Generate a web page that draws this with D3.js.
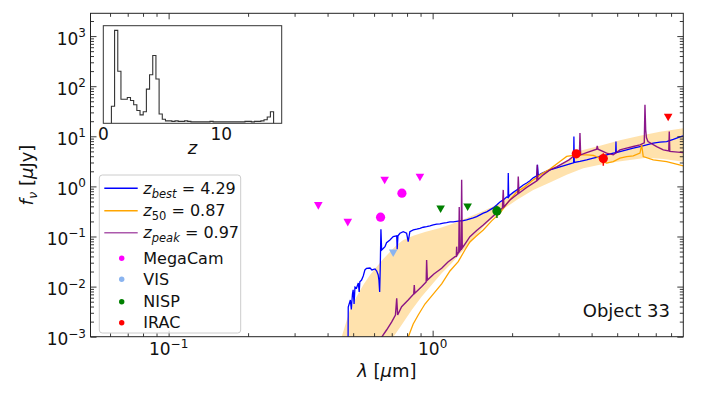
<!DOCTYPE html>
<html>
<head>
<meta charset="utf-8">
<script src="https://cdn.jsdelivr.net/npm/d3@7"></script>
<style>
  body { margin: 0; background: #fff; }
  svg { font-family: "DejaVu Sans", sans-serif; }
</style>
</head>
<body>
<svg id="chart"></svg>
<script>
// axis limits
const lamRange = [0.0506, 8.9];      // micron
const fluxRange = [1e-3, 2850];      // microJy
const xMajor = [0.1, 1];
const yMajor = [1e-3, 1e-2, 1e-1, 1, 10, 100, 1000];

// SED templates  [lambda (um), f_nu (uJy)]
const sedBest = [
  [0.478, 0.0004], [0.479, 0.0039], [0.488, 0.0054], [0.492, 0.0035], [0.497, 0.0071],
  [0.500, 0.0086], [0.504, 0.0045], [0.508, 0.0098], [0.515, 0.0094], [0.523, 0.0118],
  [0.527, 0.0078], [0.530, 0.0125], [0.538, 0.0135], [0.546, 0.0163], [0.554, 0.0215],
  [0.562, 0.0232], [0.579, 0.0235], [0.589, 0.0215], [0.605, 0.0225], [0.614, 0.0205],
  [0.622, 0.0171], [0.626, 0.0135], [0.630, 0.0078], [0.633, 0.0215], [0.637, 0.140],
  [0.641, 0.0538], [0.647, 0.0564], [0.660, 0.0627], [0.669, 0.0753], [0.689, 0.0853],
  [0.709, 0.0993], [0.731, 0.103], [0.734, 0.0556], [0.739, 0.103], [0.752, 0.116],
  [0.774, 0.125], [0.797, 0.116], [0.808, 0.0789], [0.820, 0.125], [0.845, 0.135],
  [0.870, 0.140], [0.895, 0.146], [0.921, 0.153], [0.949, 0.157], [0.977, 0.163],
  [1.005, 0.170], [1.036, 0.176], [1.066, 0.178], [1.097, 0.184], [1.130, 0.189],
  [1.163, 0.195], [1.197, 0.195], [1.250, 0.202], [1.306, 0.207], [1.345, 0.214],
  [1.384, 0.224], [1.425, 0.235], [1.468, 0.249], [1.511, 0.270], [1.555, 0.292],
  [1.602, 0.310], [1.648, 0.339], [1.696, 0.372], [1.748, 0.427], [1.799, 0.490],
  [1.851, 0.537], [1.907, 0.617], [1.929, 0.600], [1.934, 1.84], [1.941, 0.617],
  [1.963, 0.676], [2.020, 0.759], [2.081, 0.851], [2.142, 0.955], [2.204, 1.07],
  [2.271, 1.17], [2.337, 1.29], [2.405, 1.48], [2.480, 1.62], [2.495, 2.69],
  [2.512, 1.66], [2.588, 1.82], [2.664, 1.95], [2.782, 2.14], [2.906, 2.29],
  [3.035, 2.45], [3.171, 2.63], [3.311, 2.82], [3.420, 2.95], [3.428, 9.89],
  [3.440, 3.00], [3.614, 3.16], [3.831, 3.39], [4.058, 3.66], [4.302, 3.94],
  [4.561, 4.26], [4.832, 4.61], [4.935, 4.70], [4.947, 7.85], [4.960, 4.72],
  [5.123, 4.96], [5.430, 5.36], [5.753, 5.80], [6.099, 6.24], [6.466, 6.75],
  [6.848, 7.30], [7.261, 7.64], [7.697, 7.85], [8.155, 8.69], [8.646, 9.75], [8.9, 10.2]
];
const sed50 = [
  [0.805, 0.0006], [0.808, 0.00098], [0.844, 0.00179], [0.882, 0.00271], [0.935, 0.00449],
  [1.005, 0.0071], [1.082, 0.0113], [1.163, 0.0205], [1.250, 0.0315], [1.325, 0.0538],
  [1.384, 0.0778], [1.468, 0.103], [1.555, 0.135], [1.673, 0.205], [1.799, 0.292],
  [1.934, 0.490], [2.081, 0.776], [2.204, 0.933], [2.405, 1.35], [2.588, 1.78],
  [2.782, 2.21], [3.035, 3.13], [3.219, 3.97], [3.512, 4.26], [3.831, 4.26],
  [4.058, 4.16], [4.302, 3.66], [4.561, 2.91], [4.832, 3.13], [5.123, 3.66],
  [5.430, 3.94], [5.753, 4.06], [6.099, 4.61], [6.190, 6.75], [6.276, 3.94],
  [6.848, 3.38], [7.697, 3.13], [8.9, 2.57]
];
const sedPeak = [
  [0.636, 0.0006], [0.641, 0.00098], [0.669, 0.00136], [0.699, 0.00196], [0.723, 0.00271],
  [0.731, 0.00583], [0.737, 0.00271], [0.763, 0.00397], [0.808, 0.0054], [0.848, 0.0071],
  [0.852, 0.0108], [0.856, 0.00735], [0.908, 0.00995], [0.945, 0.0124], [0.949, 0.034],
  [0.955, 0.0135], [1.011, 0.0179], [1.082, 0.0232], [1.143, 0.031], [1.215, 0.0396],
  [1.229, 0.040], [1.233, 0.0627], [1.238, 0.0428], [1.256, 0.0491], [1.261, 0.389],
  [1.267, 0.0514], [1.282, 0.0564], [1.288, 1.35], [1.295, 0.059], [1.345, 0.0789],
  [1.384, 0.0993], [1.468, 0.132], [1.555, 0.170], [1.648, 0.224], [1.748, 0.296],
  [1.838, 0.372], [1.851, 0.851], [1.862, 0.389], [1.963, 0.537], [2.101, 0.708],
  [2.110, 1.57], [2.123, 0.731], [2.271, 0.955], [2.405, 1.16], [2.480, 1.29],
  [2.490, 2.69], [2.503, 1.35], [2.624, 1.70], [2.782, 2.14], [2.950, 2.45],
  [3.125, 2.91], [3.284, 3.38], [3.409, 3.97], [3.597, 4.26], [3.614, 11.6],
  [3.636, 4.26], [3.831, 4.73], [4.180, 5.53], [4.202, 6.44], [4.228, 5.53],
  [4.561, 4.61], [4.832, 4.26], [5.123, 5.36], [5.430, 5.80], [5.753, 6.24],
  [6.099, 6.75], [6.332, 7.40], [6.371, 42.5], [6.410, 13.5], [6.455, 9.31],
  [6.540, 7.85], [7.055, 6.24], [7.474, 5.36], [7.841, 5.12], [7.876, 12.4],
  [7.911, 5.00], [8.276, 4.89], [8.9, 4.73]
];
// confidence band edges
const bandUpper = [
  [0.450, 0.0006], [0.452, 0.00098], [0.486, 0.0034], [0.515, 0.00628], [0.546, 0.0108],
  [0.579, 0.0171], [0.614, 0.025], [0.650, 0.0356], [0.689, 0.0491], [0.731, 0.0678],
  [0.774, 0.0853], [0.844, 0.103], [0.935, 0.123], [1.066, 0.148], [1.197, 0.182],
  [1.345, 0.235], [1.555, 0.324], [1.799, 0.461], [2.081, 0.851], [2.405, 1.38],
  [2.782, 2.19], [3.219, 3.23], [3.614, 5.12], [4.302, 6.44], [5.123, 8.30],
  [6.099, 10.2], [7.261, 12.3], [8.9, 14.4]
];
const bandLower = [
  [0.705, 0.0006], [0.709, 0.00098], [0.763, 0.00171], [0.833, 0.0034], [0.908, 0.00628],
  [0.991, 0.0108], [1.082, 0.0185], [1.180, 0.0292], [1.288, 0.0491], [1.384, 0.0733],
  [1.555, 0.155], [1.799, 0.314], [2.081, 0.537], [2.405, 0.851], [2.782, 1.19],
  [3.219, 1.70], [3.720, 2.31], [4.302, 2.69], [4.832, 3.02], [5.589, 3.38],
  [6.466, 3.71], [7.474, 3.54], [8.9, 3.09]
];

// photometry  [lambda, flux, error, upper limit?]
const photMegaCam = [[0.369, 0.408, 0, 1], [0.477, 0.189, 0, 1], [0.635, 0.243, 0, 0],
                     [0.658, 1.31, 0, 1], [0.765, 0.731, 0, 0], [0.895, 1.50, 0, 1]];
const photVIS = [[0.709, 0.0463, 0, 1]];
const photNISP = [[1.072, 0.350, 0, 1], [1.357, 0.384, 0, 1], [1.752, 0.324, 0.089, 0]];
const photIRAC = [[3.50, 4.46, 0.4, 0], [4.43, 3.59, 1.02, 0], [7.80, 23.7, 0, 1]];

// redshift PDF histogram (inset)
const zEdges = [0.72, 0.99, 1.26, 1.53, 1.80, 2.07, 2.34, 2.61, 2.88, 3.15, 3.42, 3.69, 3.96,
  4.23, 4.50, 4.77, 5.04, 5.31, 5.58, 5.85, 6.12, 6.39, 6.66, 6.93, 7.20, 7.47, 7.74, 8.01,
  8.28, 8.55, 8.82, 9.09, 9.36, 9.63, 9.90, 10.17, 10.44, 10.71, 10.98, 11.25, 11.52, 11.79,
  12.06, 12.33, 12.60, 12.87, 13.14, 13.41, 13.68, 13.95, 14.22, 14.49];
const zCounts = [40, 1300, 200, 55, 55, 60, 52, 43, 33, 27, 31, 88, 170, 410, 140, 28, 22,
  20.5, 20.5, 20, 20.5, 20, 20, 20.5, 20, 19.5, 19.5, 19.5, 19.5, 19.5, 19.5, 20, 19.5,
  19.5, 19.5, 19.5, 19.5, 19.5, 19.5, 19.5, 19.5, 19.5, 20, 20, 19.5, 20, 20, 20.5, 21.5,
  24.5, 31];
const zTicks = [0, 10];
const zCountRange = [18.3, 1614];

const legendLines = [
  {color: '#0000ff', sub: 'best', subItalic: true, val: '4.29', op: 1},
  {color: '#ffa500', sub: '50', subItalic: false, val: '0.87', op: 1},
  {color: '#800080', sub: 'peak', subItalic: true, val: '0.97', op: 0.65}
];
const legendBands = [
  {name: 'MegaCam', color: '#ff00ff', pts: photMegaCam},
  {name: 'VIS', color: '#8ab4f0', pts: photVIS},
  {name: 'NISP', color: '#008000', pts: photNISP},
  {name: 'IRAC', color: '#ff0000', pts: photIRAC}
];

const W = 703, H = 395;
const plot = {left: 90.5, right: 683.3, top: 13.3, bottom: 336.7};
const ins = {left: 103.3, right: 281.7, top: 25.7, bottom: 123.3};

const svg = d3.select('#chart').attr('width', W).attr('height', H);

const x = d3.scaleLog().domain(lamRange).range([plot.left, plot.right]);
const y = d3.scaleLog().domain(fluxRange).range([plot.bottom, plot.top]);

svg.append('defs').append('clipPath').attr('id', 'clip')
  .append('rect')
  .attr('x', plot.left).attr('y', plot.top)
  .attr('width', plot.right - plot.left).attr('height', plot.bottom - plot.top);

const g = svg.append('g').attr('clip-path', 'url(#clip)');
const line = d3.line().x(d => x(d[0])).y(d => y(d[1]));

// uncertainty band
g.append('path')
  .attr('d', line(bandUpper.concat(bandLower.slice().reverse())) + 'Z')
  .attr('fill', '#ffa500').attr('fill-opacity', 0.32).attr('stroke', 'none');

g.append('path').attr('d', line(sedBest))
  .attr('fill', 'none').attr('stroke', '#0000ff').attr('stroke-width', 1.3);
g.append('path').attr('d', line(sed50))
  .attr('fill', 'none').attr('stroke', '#ffa500').attr('stroke-width', 1.3);
g.append('path').attr('d', line(sedPeak))
  .attr('fill', 'none').attr('stroke', '#800080').attr('stroke-opacity', 0.9).attr('stroke-width', 1.4);

// photometric points
legendBands.forEach(b => {
  b.pts.forEach(p => {
    const px = x(p[0]), py = y(p[1]);
    if (p[2] > 0) {
      g.append('line')
        .attr('x1', px).attr('x2', px)
        .attr('y1', y(p[1] - p[2])).attr('y2', y(p[1] + p[2]))
        .attr('stroke', b.color).attr('stroke-width', 1.5);
    }
    if (p[3]) {
      g.append('path')
        .attr('d', `M${px - 4.3},${py - 3.8}L${px + 4.3},${py - 3.8}L${px},${py + 3.8}Z`)
        .attr('fill', b.color);
    } else {
      g.append('circle').attr('cx', px).attr('cy', py).attr('r', 4.6).attr('fill', b.color);
    }
  });
});

// ticks, all pointing inwards
const xAll = x.ticks();
const yAll = y.ticks();
const isMajor = v => Math.abs(Math.log10(v) - Math.round(Math.log10(v))) < 1e-6;
const xMinor = xAll.filter(v => !isMajor(v));
const yMinor = yAll.filter(v => !isMajor(v));

function ticks(axisFn, scale, vals, size, tr) {
  const a = svg.append('g').attr('transform', tr)
    .call(axisFn(scale).tickValues(vals).tickSize(-size).tickFormat(() => ''));
  a.select('.domain').remove();
  a.selectAll('line').attr('stroke', '#222').attr('stroke-width', 0.9);
}
[[xMajor, 6], [xMinor, 3.5]].forEach(([v, s]) => {
  ticks(d3.axisBottom, x, v, s, `translate(0,${plot.bottom})`);
  ticks(d3.axisTop, x, v, s, `translate(0,${plot.top})`);
});
[[yMajor, 6], [yMinor, 3.5]].forEach(([v, s]) => {
  ticks(d3.axisLeft, y, v, s, `translate(${plot.left},0)`);
  ticks(d3.axisRight, y, v, s, `translate(${plot.right},0)`);
});

svg.append('rect')
  .attr('x', plot.left).attr('y', plot.top)
  .attr('width', plot.right - plot.left).attr('height', plot.bottom - plot.top)
  .attr('fill', 'none').attr('stroke', '#222').attr('stroke-width', 1);

function powLabel(t, v) {
  const e = Math.round(Math.log10(v));
  t.append('tspan').text('10');
  t.append('tspan').attr('dy', -7.5).attr('font-size', 12)
    .text(e < 0 ? '\u2212' + (-e) : String(e));
}
xMajor.forEach(v => {
  const t = svg.append('text').attr('x', x(v)).attr('y', 355)
    .attr('text-anchor', 'middle').attr('font-size', 17).attr('fill', '#111');
  powLabel(t, v);
});
yMajor.forEach(v => {
  const t = svg.append('text').attr('x', 86).attr('y', y(v) + 8.5)
    .attr('text-anchor', 'end').attr('font-size', 17).attr('fill', '#111');
  powLabel(t, v);
});

// axis labels
const xl = svg.append('text').attr('x', (plot.left + plot.right) / 2).attr('y', 377)
  .attr('text-anchor', 'middle').attr('font-size', 18).attr('fill', '#111');
xl.append('tspan').attr('font-style', 'italic').text('\u03bb');
xl.append('tspan').text(' [');
xl.append('tspan').attr('font-style', 'italic').text('\u03bc');
xl.append('tspan').text('m]');

const yl = svg.append('text')
  .attr('transform', `translate(33,${(plot.top + plot.bottom) / 2}) rotate(-90)`)
  .attr('text-anchor', 'middle').attr('font-size', 18).attr('fill', '#111');
yl.append('tspan').attr('font-style', 'italic').text('f');
yl.append('tspan').attr('font-style', 'italic').attr('font-size', 13).attr('dy', 4).text('\u03bd');
yl.append('tspan').attr('dy', -4).text(' [');
yl.append('tspan').attr('font-style', 'italic').text('\u03bc');
yl.append('tspan').text('Jy]');

svg.append('text').attr('x', 670).attr('y', 317).attr('text-anchor', 'end')
  .attr('font-size', 18).attr('fill', '#111').text('Object 33');

// legend
svg.append('rect').attr('x', 99.3).attr('y', 175).attr('width', 141.4).attr('height', 158)
  .attr('rx', 3).attr('fill', '#fff').attr('fill-opacity', 0.8)
  .attr('stroke', '#cccccc').attr('stroke-width', 1);
const lineRows = [188.3, 210.7, 232.7];
const dotRows = [258.3, 279.3, 301.7, 322.7];
legendLines.forEach((d, i) => {
  const ry = lineRows[i];
  svg.append('line').attr('x1', 104.3).attr('x2', 137.7).attr('y1', ry).attr('y2', ry)
    .attr('stroke', d.color).attr('stroke-opacity', d.op).attr('stroke-width', 1.5);
  const t = svg.append('text').attr('x', 143.3).attr('y', ry + 5.5)
    .attr('font-size', 16).attr('fill', '#111');
  t.append('tspan').attr('font-style', 'italic').text('z');
  t.append('tspan').attr('font-size', 11.5).attr('dy', 4)
    .attr('font-style', d.subItalic ? 'italic' : 'normal').text(d.sub);
  t.append('tspan').attr('dy', -4).text(' = ' + d.val);
});
legendBands.forEach((d, i) => {
  const ry = dotRows[i];
  svg.append('circle').attr('cx', 121.7).attr('cy', ry).attr('r', 2.7).attr('fill', d.color);
  svg.append('text').attr('x', 143.3).attr('y', ry + 5.3)
    .attr('font-size', 16).attr('fill', '#111').text(d.name);
});

// inset: redshift PDF
const zPad = 0.05 * (zEdges[zEdges.length - 1] - zEdges[0]);
const zx = d3.scaleLinear()
  .domain([zEdges[0] - zPad, zEdges[zEdges.length - 1] + zPad])
  .range([ins.left, ins.right]);
const zy = d3.scaleLog().domain(zCountRange).range([ins.bottom, ins.top]);

svg.append('rect').attr('x', ins.left).attr('y', ins.top)
  .attr('width', ins.right - ins.left).attr('height', ins.bottom - ins.top)
  .attr('fill', '#fff').attr('stroke', '#333').attr('stroke-width', 1);

const stepPts = [[zEdges[0], zCountRange[0]]];
zCounts.forEach((c, i) => stepPts.push([zEdges[i], c]));
stepPts.push([zEdges[zEdges.length - 1], zCounts[zCounts.length - 1]]);
stepPts.push([zEdges[zEdges.length - 1], zCountRange[0]]);

svg.append('path')
  .attr('d', d3.line().curve(d3.curveStepAfter).x(d => zx(d[0])).y(d => zy(d[1]))(stepPts))
  .attr('fill', 'none').attr('stroke', '#333').attr('stroke-width', 1.1);

const zAxis = svg.append('g').attr('transform', `translate(0,${ins.bottom})`)
  .call(d3.axisBottom(zx).tickValues(zTicks).tickSize(0).tickPadding(5).tickFormat(d3.format('d')));
zAxis.select('.domain').remove();
zAxis.attr('font-size', 17).attr('font-family', '"DejaVu Sans", sans-serif');
zAxis.selectAll('text').attr('fill', '#111');

svg.append('text').attr('x', (ins.left + ins.right) / 2).attr('y', 154)
  .attr('text-anchor', 'middle').attr('font-size', 18).attr('font-style', 'italic')
  .attr('fill', '#111').text('z');
</script>
</body>
</html>
